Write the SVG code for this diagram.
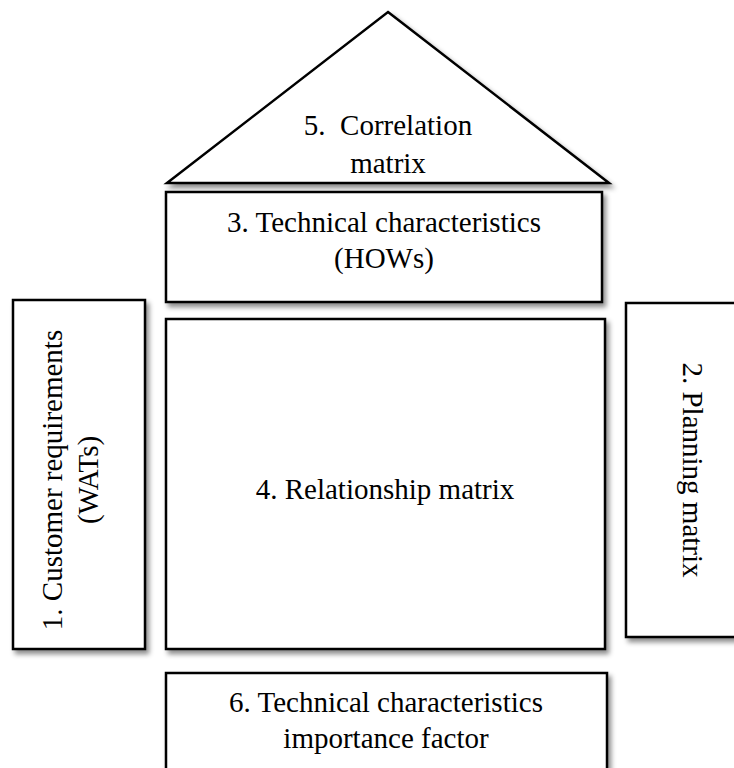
<svg xmlns="http://www.w3.org/2000/svg" width="734" height="768" viewBox="0 0 734 768">
<defs>
<filter id="sh" x="-10%" y="-10%" width="130%" height="130%">
<feDropShadow dx="3" dy="4" stdDeviation="2.5" flood-color="#000" flood-opacity="0.45"/>
</filter>
<style>
.b{fill:#fff;stroke:#000;stroke-width:2.5;filter:url(#sh)}
.t{font-family:"Liberation Serif","Times New Roman",serif;font-size:29px;fill:#000;text-anchor:middle}
</style>
</defs>
<rect width="734" height="768" fill="#fff"/>
<g id="n5">
<polygon class="b" points="388,12 609,183 167,183" stroke-linejoin="miter"/>
<text class="t" x="388" y="135" xml:space="preserve">5.  Correlation</text>
<text class="t" x="388" y="173">matrix</text>
</g>
<g id="n3">
<rect class="b" x="166" y="192" width="436" height="110"/>
<text class="t" x="384" y="232">3. Technical characteristics</text>
<text class="t" x="384" y="268">(HOWs)</text>
</g>
<g id="n1">
<rect class="b" x="13" y="300" width="132" height="349"/>
<text class="t" transform="translate(62,480) rotate(-90)">1. Customer requirements</text>
<text class="t" transform="translate(98,480) rotate(-90)">(WATs)</text>
</g>
<g id="n4">
<rect class="b" x="166" y="319" width="439" height="330"/>
<text class="t" x="385" y="499">4. Relationship matrix</text>
</g>
<g id="n2">
<rect class="b" x="626" y="303" width="120" height="334"/>
<text class="t" transform="translate(683,470) rotate(90)">2. Planning matrix</text>
</g>
<g id="n6">
<rect class="b" x="166" y="673" width="441" height="110"/>
<text class="t" x="386" y="712">6. Technical characteristics</text>
<text class="t" x="386" y="748">importance factor</text>
</g>
<g id="connectors"/>
</svg>
